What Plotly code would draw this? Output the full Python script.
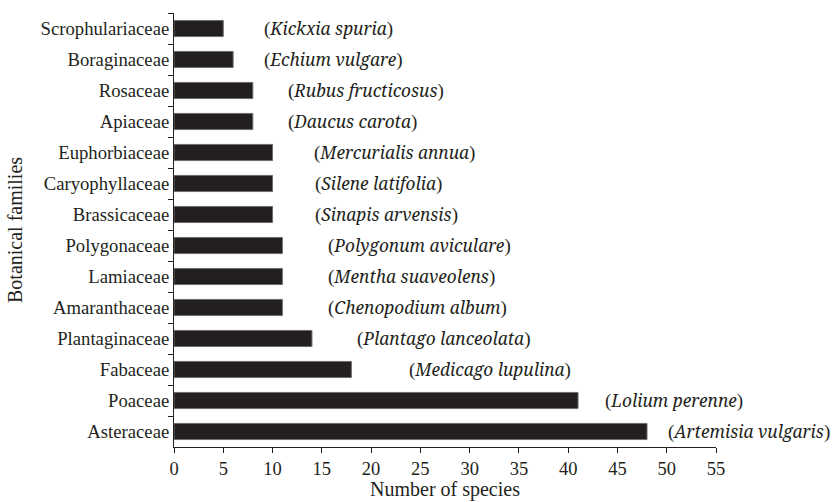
import plotly.graph_objects as go

families = ["Scrophulariaceae", "Boraginaceae", "Rosaceae", "Apiaceae", "Euphorbiaceae",
            "Caryophyllaceae", "Brassicaceae", "Polygonaceae", "Lamiaceae", "Amaranthaceae",
            "Plantaginaceae", "Fabaceae", "Poaceae", "Asteraceae"]
species_counts = [5, 6, 8, 8, 10, 10, 10, 11, 11, 11, 14, 18, 41, 48]
representative = ["Kickxia spuria", "Echium vulgare", "Rubus fructicosus", "Daucus carota",
                  "Mercurialis annua", "Silene latifolia", "Sinapis arvensis",
                  "Polygonum aviculare", "Mentha suaveolens", "Chenopodium album",
                  "Plantago lanceolata", "Medicago lupulina", "Lolium perenne",
                  "Artemisia vulgaris"]
label_x = [8.9, 8.9, 11.4, 11.4, 14.0, 14.1, 14.1, 15.4, 15.4, 15.4, 18.4, 23.6, 43.5, 49.9]
x_ticks = list(range(0, 56, 5))

FONT = "Liberation Serif"
ITALIC = "Noto Serif"

fig = go.Figure()
fig.add_trace(go.Bar(
    y=families, x=species_counts, orientation="h",
    width=0.52,
    marker=dict(color="#231f20", line=dict(color="#6e6e6e", width=1)),
    hoverinfo="x+y",
))

for fam, sp, lx in zip(families, representative, label_x):
    fig.add_annotation(x=lx, y=fam, xref="x", yref="y",
                       text=(f"(<span style='font-family:{ITALIC};font-style:italic;"
                             f"font-size:17.3px'>{sp}</span>)"),
                       showarrow=False, xanchor="left", yanchor="middle",
                       font=dict(family=FONT, size=19, color="#231f20"))

fig.add_annotation(xref="paper", yref="paper", x=0, y=0.5, xshift=-159,
                   text="Botanical families", textangle=-90, showarrow=False,
                   xanchor="center", yanchor="middle",
                   font=dict(family=FONT, size=20, color="#231f20"))
fig.add_annotation(xref="paper", yref="paper", x=0.5, y=0, yshift=-42,
                   text="Number of species", showarrow=False,
                   xanchor="center", yanchor="middle",
                   font=dict(family=FONT, size=20, color="#231f20"))

fig.update_layout(
    width=839, height=502,
    margin=dict(l=174, r=123, t=13, b=55, autoexpand=False),
    paper_bgcolor="white", plot_bgcolor="white",
    showlegend=False,
    font=dict(family=FONT, size=18, color="#231f20"),
    xaxis=dict(range=[0, 55], tickvals=x_ticks, showgrid=False, zeroline=False,
               automargin=False,
               showline=True, linecolor="#231f20", linewidth=1,
               ticks="outside", ticklen=5, tickcolor="#231f20",
               tickfont=dict(family=FONT, size=18.5, color="#231f20")),
    yaxis=dict(autorange="reversed", showgrid=False, zeroline=False,
               automargin=False,
               showline=True, linecolor="#231f20", linewidth=1,
               ticks="outside", ticklen=5, tickcolor="#231f20",
               tickson="boundaries",
               tickfont=dict(family=FONT, size=18.7, color="#231f20")),
)

fig.write_html("out.html", config={"displayModeBar": False},
               post_script="document.body.style.margin='0';")
